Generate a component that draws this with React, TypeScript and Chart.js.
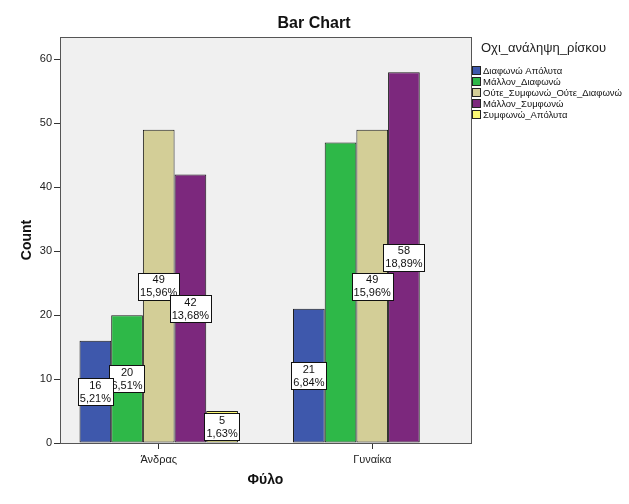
import React, { useEffect, useRef } from 'react';
import { Chart, registerables } from 'chart.js';

Chart.register(...registerables);

const categories = ['Άνδρας', 'Γυναίκα'];
const seriesNames = [
  'Διαφωνώ Απόλυτα',
  'Μάλλον_Διαφωνώ',
  'Ούτε_Συμφωνώ_Ούτε_Διαφωνώ',
  'Μάλλον_Συμφωνώ',
  'Συμφωνώ_Απόλυτα',
];
const disagreeAbsolutely = [16, 21];
const ratherDisagree = [20, 47];
const neitherNor = [49, 49];
const ratherAgree = [42, 58];
const agreeAbsolutely = [5, 0];
const seriesValues = [disagreeAbsolutely, ratherDisagree, neitherNor, ratherAgree, agreeAbsolutely];
const seriesColors = ['#3E58AC', '#2EB848', '#D3CE97', '#7C287D', '#FBF873'];
const yTicks = [0, 10, 20, 30, 40, 50, 60];
const hiddenLabels = [[1, 1]]; // [series, category] labels not shown

const chartTitle = 'Bar Chart';
const legendTitle = 'Οχι_ανάληψη_ρίσκου';
const xTitle = 'Φύλο';
const yTitle = 'Count';

const FONT = '"Liberation Sans", Arial, sans-serif';

export default function App() {
  const ref = useRef<HTMLCanvasElement>(null);

  useEffect(() => {
    const canvas = ref.current;
    if (!canvas) return;
    const total = seriesValues.reduce((s, arr) => s + arr.reduce((a, b) => a + b, 0), 0);
    const pct = (v: number) => ((v / total) * 100).toFixed(2).replace('.', ',') + '%';

    const bgPlugin = {
      id: 'bg',
      beforeDraw(chart: any) {
        const { ctx, chartArea: a } = chart;
        ctx.save();
        ctx.fillStyle = '#ffffff';
        ctx.fillRect(0, 0, chart.width, chart.height);
        ctx.fillStyle = '#F0F0F0';
        ctx.fillRect(a.left, a.top, a.right - a.left, a.bottom - a.top);
        ctx.strokeStyle = '#555555';
        ctx.lineWidth = 1;
        ctx.strokeRect(Math.round(a.left) + 0.5, Math.round(a.top) + 0.5, Math.round(a.right - a.left), Math.round(a.bottom - a.top));
        ctx.restore();
      },
    };

    const labelPlugin = {
      id: 'barLabels',
      afterDatasetsDraw(chart: any) {
        const { ctx } = chart;
        const items: any[] = [];
        chart.data.datasets.forEach((ds: any, di: number) => {
          const meta = chart.getDatasetMeta(di);
          meta.data.forEach((el: any, i: number) => {
            const v = ds.data[i];
            if (!v) return;
            if (hiddenLabels.some(([d, c]) => d === di && c === i)) return;
            items.push({ x: el.x, y: (el.y + el.base) / 2, lines: [String(v), pct(v)] });
          });
        });
        items.sort((a, b) => a.y - b.y);
        ctx.save();
        ctx.font = `11px ${FONT}`;
        ctx.textAlign = 'center';
        ctx.textBaseline = 'middle';
        for (const it of items) {
          const w = Math.max(...it.lines.map((l: string) => ctx.measureText(l).width)) + 4;
          const h = 27;
          const x0 = Math.round(it.x - w / 2) + 0.5;
          const y0 = Math.round(it.y - h / 2) + 0.5;
          ctx.fillStyle = '#ffffff';
          ctx.fillRect(x0, y0, Math.round(w), h);
          ctx.strokeStyle = '#111111';
          ctx.lineWidth = 1;
          ctx.strokeRect(x0, y0, Math.round(w), h);
          ctx.fillStyle = '#111111';
          ctx.fillText(it.lines[0], it.x, it.y - 6);
          ctx.fillText(it.lines[1], it.x, it.y + 7);
        }
        ctx.restore();
      },
    };

    const textPlugin = {
      id: 'texts',
      afterDraw(chart: any) {
        const { ctx, chartArea: a } = chart;
        ctx.save();
        ctx.fillStyle = '#111111';
        ctx.textAlign = 'center';
        ctx.textBaseline = 'middle';
        ctx.font = `bold 16px ${FONT}`;
        ctx.fillText(chartTitle, 314, 24);
        ctx.font = `bold 14px ${FONT}`;
        ctx.fillText(xTitle, (a.left + a.right) / 2, 480);
        ctx.save();
        ctx.translate(27, (a.top + a.bottom) / 2);
        ctx.rotate(-Math.PI / 2);
        ctx.fillText(yTitle, 0, 0);
        ctx.restore();
        // legend
        ctx.textAlign = 'left';
        ctx.font = `13px ${FONT}`;
        ctx.fillStyle = '#222222';
        ctx.fillText(legendTitle, 481, 48);
        ctx.font = `9.5px ${FONT}`;
        seriesNames.forEach((name, i) => {
          const cy = 71 + i * 11;
          ctx.fillStyle = seriesColors[i];
          ctx.fillRect(472.5, cy - 4.5, 8, 8);
          ctx.strokeStyle = '#222222';
          ctx.lineWidth = 1;
          ctx.strokeRect(472.5, cy - 4.5, 8, 8);
          ctx.fillStyle = '#111111';
          ctx.fillText(name, 483, cy);
        });
        ctx.restore();
      },
    };

    const chart = new Chart(canvas, {
      type: 'bar',
      data: {
        labels: categories,
        datasets: seriesNames.map((name, i) => ({
          label: name,
          data: seriesValues[i],
          backgroundColor: seriesColors[i],
          borderColor: '#1a1a1a',
          borderWidth: (c: any) => (c.raw === 0 ? 0 : 1),
          borderSkipped: false,
          categoryPercentage: 0.742,
          barPercentage: 1.0,
        })),
      },
      options: {
        responsive: false,
        animation: false,
        devicePixelRatio: 1,
        layout: { padding: { left: 0, top: 37, right: 158, bottom: 0 } },
        plugins: {
          legend: { display: false },
          title: { display: false },
          tooltip: { enabled: false },
        },
        scales: {
          x: {
            type: 'category',
            offset: false,
            afterFit: (s: any) => { s.height = 61; },
            afterBuildTicks: (s: any) => {
              s._startValue = -0.4624;
              s._valueRange = 1.925;
            },
            grid: {
              offset: false,
              drawOnChartArea: false,
              drawTicks: true,
              tickLength: 6,
              color: '#333333',
            },
            border: { display: true, color: '#555555' },
            ticks: {
              color: '#222222',
              font: { family: FONT, size: 11 },
              padding: 4,
              maxRotation: 0,
            },
          },
          y: {
            type: 'linear',
            min: 0,
            max: 63.5,
            afterFit: (s: any) => { s.width = 60; },
            afterBuildTicks: (s: any) => {
              s.ticks = yTicks.map((v) => ({ value: v }));
            },
            grid: {
              drawOnChartArea: false,
              drawTicks: true,
              tickLength: 6,
              color: '#333333',
            },
            border: { display: true, color: '#555555' },
            ticks: {
              color: '#222222',
              font: { family: FONT, size: 11 },
              padding: 2,
            },
          },
        },
      },
      plugins: [bgPlugin, labelPlugin, textPlugin],
    } as any);

    return () => chart.destroy();
  }, []);

  return (
    <div style={{ position: 'absolute', left: 0, top: 0, width: 629, height: 504, background: '#fff' }}>
      <canvas ref={ref} width={629} height={504} style={{ width: 629, height: 504, display: 'block' }} />
    </div>
  );
}
